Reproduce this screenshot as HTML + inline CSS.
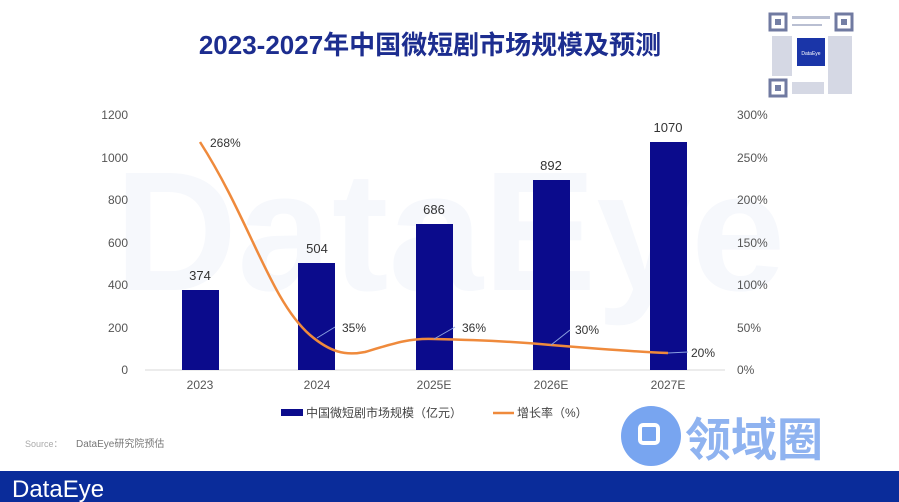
<!DOCTYPE html>
<html><head><meta charset="utf-8"><style>
body{margin:0;width:899px;height:502px;background:#fff;overflow:hidden;font-family:"Liberation Sans","Noto Sans CJK SC",sans-serif;}
</style></head><body>
<svg width="899" height="502" viewBox="0 0 899 502" xmlns="http://www.w3.org/2000/svg" style="position:absolute;left:0;top:0">
<text x="450" y="290" font-size="170" font-weight="bold" fill="#f6f8fc" text-anchor="middle" font-family="Liberation Sans,sans-serif">DataEye</text>
<text x="430" y="54" font-size="26" font-weight="bold" fill="#1c2d8f" text-anchor="middle" font-family="Liberation Sans,Noto Sans CJK SC,sans-serif">2023-2027年中国微短剧市场规模及预测</text>
<g>
<rect x="765" y="10" width="90" height="90" fill="#fff"/>
<g fill="#3a4a80" opacity="0.7">
<rect x="770" y="14" width="16" height="16" fill="none" stroke="#34427a" stroke-width="3"/>
<rect x="775" y="19" width="6" height="6"/>
<rect x="836" y="14" width="16" height="16" fill="none" stroke="#34427a" stroke-width="3"/>
<rect x="841" y="19" width="6" height="6"/>
<rect x="770" y="80" width="16" height="16" fill="none" stroke="#34427a" stroke-width="3"/>
<rect x="775" y="85" width="6" height="6"/>
<rect x="792" y="16" width="38" height="3" opacity="0.5"/><rect x="792" y="24" width="30" height="2" opacity="0.5"/>
<rect x="772" y="36" width="20" height="40" opacity="0.3"/><rect x="828" y="36" width="24" height="58" opacity="0.3"/>
<rect x="792" y="82" width="32" height="12" opacity="0.3"/>
</g>
<rect x="797" y="38" width="28" height="28" fill="#1a35a8"/>
<text x="811" y="55" font-size="5" fill="#fff" text-anchor="middle">DataEye</text>
</g>
<line x1="145" y1="370" x2="725" y2="370" stroke="#d9d9d9"/>
<g font-size="12" fill="#555" text-anchor="end">
<text x="128" y="374">0</text><text x="128" y="332">200</text><text x="128" y="289">400</text><text x="128" y="247">600</text><text x="128" y="204">800</text><text x="128" y="162">1000</text><text x="128" y="119">1200</text>
</g>
<g font-size="12" fill="#555" text-anchor="start">
<text x="737" y="374">0%</text><text x="737" y="332">50%</text><text x="737" y="289">100%</text><text x="737" y="247">150%</text><text x="737" y="204">200%</text><text x="737" y="162">250%</text><text x="737" y="119">300%</text>
</g>
<g fill="#0b0b8c">
<rect x="182" y="290" width="37" height="80"/>
<rect x="298" y="263" width="37" height="107"/>
<rect x="416" y="224" width="37" height="146"/>
<rect x="533" y="180" width="37" height="190"/>
<rect x="650" y="142" width="37" height="228"/>
</g>
<g font-size="13" fill="#333" text-anchor="middle">
<text x="200" y="280">374</text><text x="317" y="253">504</text><text x="434" y="214">686</text><text x="551" y="170">892</text><text x="668" y="132">1070</text>
</g>
<path d="M200,142 C250,220 270,300 310,335 C330,352 345,356 365,352 C395,343 410,338 434,339 C480,340 520,342 551,345 C600,349 640,352 668,353" fill="none" stroke="#ef8a3c" stroke-width="2.5"/>
<g stroke="#8aa0e0" stroke-width="1" fill="none">
<line x1="317" y1="338" x2="335" y2="327"/><line x1="434" y1="339" x2="455" y2="327"/><line x1="551" y1="345" x2="570" y2="330"/><line x1="668" y1="353" x2="688" y2="352"/>
</g>
<g font-size="12" fill="#333">
<text x="210" y="147">268%</text><text x="342" y="332">35%</text><text x="462" y="332">36%</text><text x="575" y="334">30%</text><text x="691" y="357">20%</text>
</g>
<g font-size="12" fill="#555" text-anchor="middle">
<text x="200" y="389">2023</text><text x="317" y="389">2024</text><text x="434" y="389">2025E</text><text x="551" y="389">2026E</text><text x="668" y="389">2027E</text>
</g>
<rect x="281" y="409" width="22" height="7" fill="#0b0b8c"/>
<text x="306" y="417" font-size="12" fill="#444">中国微短剧市场规模（亿元）</text>
<line x1="493" y1="413" x2="514" y2="413" stroke="#ef8a3c" stroke-width="2.5"/>
<text x="517" y="417" font-size="12" fill="#444">增长率（%）</text>
<text x="25" y="447" font-size="9" fill="#aaa">Source：</text>
<text x="76" y="447" font-size="10" fill="#777">DataEye研究院预估</text>
<circle cx="651" cy="436" r="30" fill="#78a5f0"/>
<rect x="640" y="425" width="18" height="18" rx="3" fill="none" stroke="#fff" stroke-width="4"/>
<text x="685" y="456" font-size="46" font-weight="bold" fill="#8fb3f0">领域圈</text>
<rect x="0" y="471" width="899" height="31" fill="#0a2c9a"/>
<text x="12" y="497" font-size="24" fill="#fff">DataEye</text>
</svg>
</body></html>
